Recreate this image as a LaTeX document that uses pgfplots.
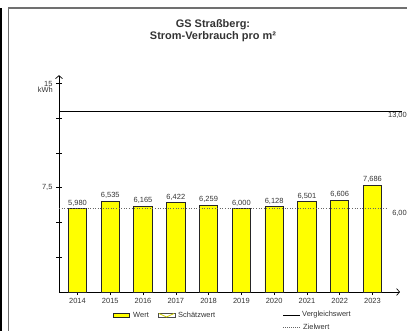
\documentclass[border=0pt]{standalone}
\usepackage{pgfplots}
\pgfplotsset{compat=1.18}
\usepackage{fontspec}
\setmainfont{Liberation Sans}
\usetikzlibrary{arrows.meta}
\definecolor{frame}{HTML}{707070}
\definecolor{txt}{HTML}{333333}
\definecolor{baryellow}{HTML}{FFFF00}
\begin{document}
\begin{tikzpicture}[x=1bp,y=1bp]
\useasboundingbox (0,0) rectangle (407,331);
\draw[black, line width=2bp] (1,0) -- (1,323);
\draw[frame, line width=1.6bp] (8.5,0) -- (8.5,323) -- (407,323);
\node[font=\fontsize{11}{12}\selectfont\bfseries, align=center, text=txt] at (213,300) {GS Straßberg:\\Strom-Verbrauch pro m²};
\begin{axis}[
  at={(59bp,39bp)}, anchor=south west, scale only axis,
  width=341bp, height=216.8bp,
  xmin=-0.564, xmax=9.84, ymin=0, ymax=15.6,
  axis lines=left, clip=false,
  axis line style={line width=0.7bp, -{Straight Barb[length=3bp,width=7bp]}},
  xtick={0,...,9},
  xticklabels={2014,2015,2016,2017,2018,2019,2020,2021,2022,2023},
  ytick={2.5,5,7.5,10,12.5,15},
  yticklabels={,,{7,5},,,15},
  tick align=center, major tick length=6bp,
  tick style={black, line width=0.6bp},
  xticklabel style={font=\fontsize{7.5}{8}\selectfont, text=txt},
  yticklabel style={font=\fontsize{7.5}{8}\selectfont, text=txt},
]
\addplot[ybar, bar width=18.3bp, fill=baryellow, draw=black!85, line width=0.8bp,
  nodes near coords={\pgfmathprintnumber[fixed, fixed zerofill, precision=3, use comma, assume math mode=true]{\pgfplotspointmeta}},
  every node near coord/.append style={font=\fontsize{7.5}{8}\selectfont, text=txt, anchor=south, inner sep=0pt, yshift=2bp}]
  coordinates {(0,5.980) (1,6.535) (2,6.165) (3,6.422) (4,6.259) (5,6.000) (6,6.128) (7,6.501) (8,6.606) (9,7.686)};
\addplot[black, line width=0.7bp] coordinates {(-0.564,13) (9.9,13)};
\addplot[black!60, dotted, line width=0.6bp] coordinates {(-0.564,6) (9.44,6)};
\end{axis}
\begin{scope}[font=\fontsize{7.5}{8}\selectfont]
\node[anchor=north east, text=txt, inner sep=0pt] at (53,244) {kWh};
\node[anchor=east, text=txt, inner sep=0pt] at (407,216) {13,00};
\node[anchor=east, text=txt, inner sep=0pt] at (407,118) {6,00};
% legend
\draw[fill=baryellow, draw=black!85, line width=0.8bp] (113,13.5) rectangle (129,18);
\node[anchor=west, text=txt, inner sep=0pt] at (133,16) {Wert};
\draw[fill=white, draw=black!70, line width=0.8bp] (158,13.5) rectangle (175,18);
\draw[baryellow!80!black, line width=0.8bp] (159,17.5) -- (166.5,14) -- (174,17.5);
\node[anchor=west, text=txt, inner sep=0pt] at (178,16) {Schätzwert};
\draw[black, line width=0.7bp] (283,16) -- (300,16);
\node[anchor=west, text=txt, inner sep=0pt] at (302,16) {Vergleichswert};
\draw[black!60, dash pattern=on 1.2bp off 0.8bp, line width=0.6bp] (283,4) -- (300,4);
\node[anchor=west, text=txt, inner sep=0pt] at (303,4) {Zielwert};
\end{scope}
\end{tikzpicture}
\end{document}
